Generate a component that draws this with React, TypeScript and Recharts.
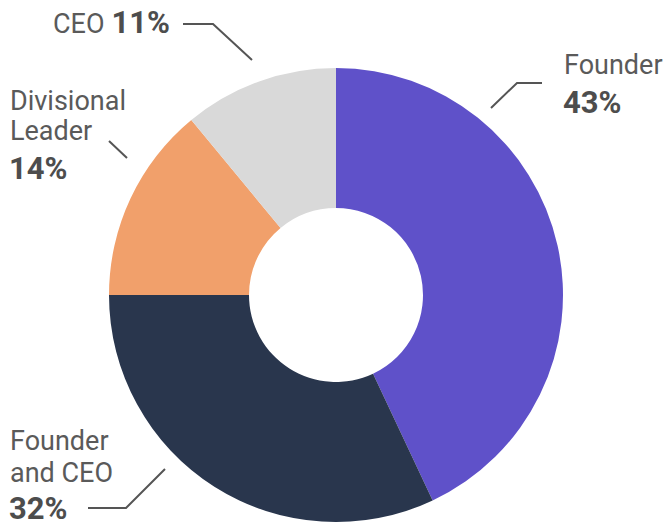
import React from "react";
import { PieChart, Pie, Cell } from "recharts";

const ROLES = ["Founder", "Founder and CEO", "Divisional Leader", "CEO"];
const SHARES = [43, 32, 14, 11];
const COLORS = ["#5f51c9", "#29364d", "#f1a06b", "#d9d9d9"];

const data = ROLES.map((name, i) => ({ name, value: SHARES[i] }));

const NAME_COLOR = "#5a5a5a";
const PCT_COLOR = "#4d4d4d";
const LINE_COLOR = "#555555";
const FONT = "Roboto, 'Noto Sans', sans-serif";

// hand placed label layout, offsets from the pie centre
type Layout = {
  x: number;
  lines: number[]; // baselines of name lines, pct baseline is last
  names: string[];
  inline?: boolean;
  leader: [number, number][];
};

const LAYOUT: Layout[] = [
  { x: 228, names: ["Founder"], lines: [-221, -182], leader: [[155, -187], [181, -212], [206, -212]] },
  { x: -326, names: ["Founder", "and CEO"], lines: [155, 187, 224], leader: [[-171, 174], [-210, 213], [-248, 213]] },
  { x: -326, names: ["Divisional", "Leader"], lines: [-185, -155, -116], leader: [[-209, -137], [-227, -154]] },
  { x: -283, names: ["CEO"], lines: [-262], inline: true, leader: [[-84, -235], [-123, -271], [-153, -271]] },
];

const renderLabel = (props: any) => {
  const { cx, cy, index, value } = props;
  const l = LAYOUT[index];
  const pts = l.leader.map(([dx, dy]) => `${cx + dx},${cy + dy}`).join(" ");
  return (
    <g key={`lbl-${index}`}>
      <polyline points={pts} fill="none" stroke={LINE_COLOR} strokeWidth={2} />
      {l.inline ? (
        <text x={cx + l.x} y={cy + l.lines[0]} fill={NAME_COLOR} fontFamily={FONT} fontSize={27} textAnchor="start">
          <tspan>{l.names[0]}</tspan>
          <tspan dx={7} fontWeight={700} fontSize={31} fill={PCT_COLOR}>{`${value}%`}</tspan>
        </text>
      ) : (
        <text fill={NAME_COLOR} fontFamily={FONT} textAnchor="start">
          {l.names.map((n, j) => (
            <tspan key={j} x={cx + l.x} y={cy + l.lines[j]} fontSize={27}>
              {n}
            </tspan>
          ))}
          <tspan x={cx + l.x - 1} y={cy + l.lines[l.names.length]} fontSize={31} fontWeight={700} fill={PCT_COLOR}>
            {`${value}%`}
          </tspan>
        </text>
      )}
    </g>
  );
};

export default function App() {
  return (
    <div style={{ position: "absolute", left: 0, top: 0, width: 665, height: 522, background: "#fff" }}>
      <PieChart width={665} height={522} margin={{ top: 0, right: 0, bottom: 0, left: 0 }}>
        <Pie
          data={data}
          dataKey="value"
          nameKey="name"
          cx={336}
          cy={295}
          innerRadius={87}
          outerRadius={227}
          startAngle={90}
          endAngle={-270}
          stroke="none"
          label={renderLabel}
          labelLine={false}
          isAnimationActive={false}
        >
          {data.map((entry, i) => (
            <Cell key={`cell-${i}`} fill={COLORS[i]} />
          ))}
        </Pie>
      </PieChart>
    </div>
  );
}
